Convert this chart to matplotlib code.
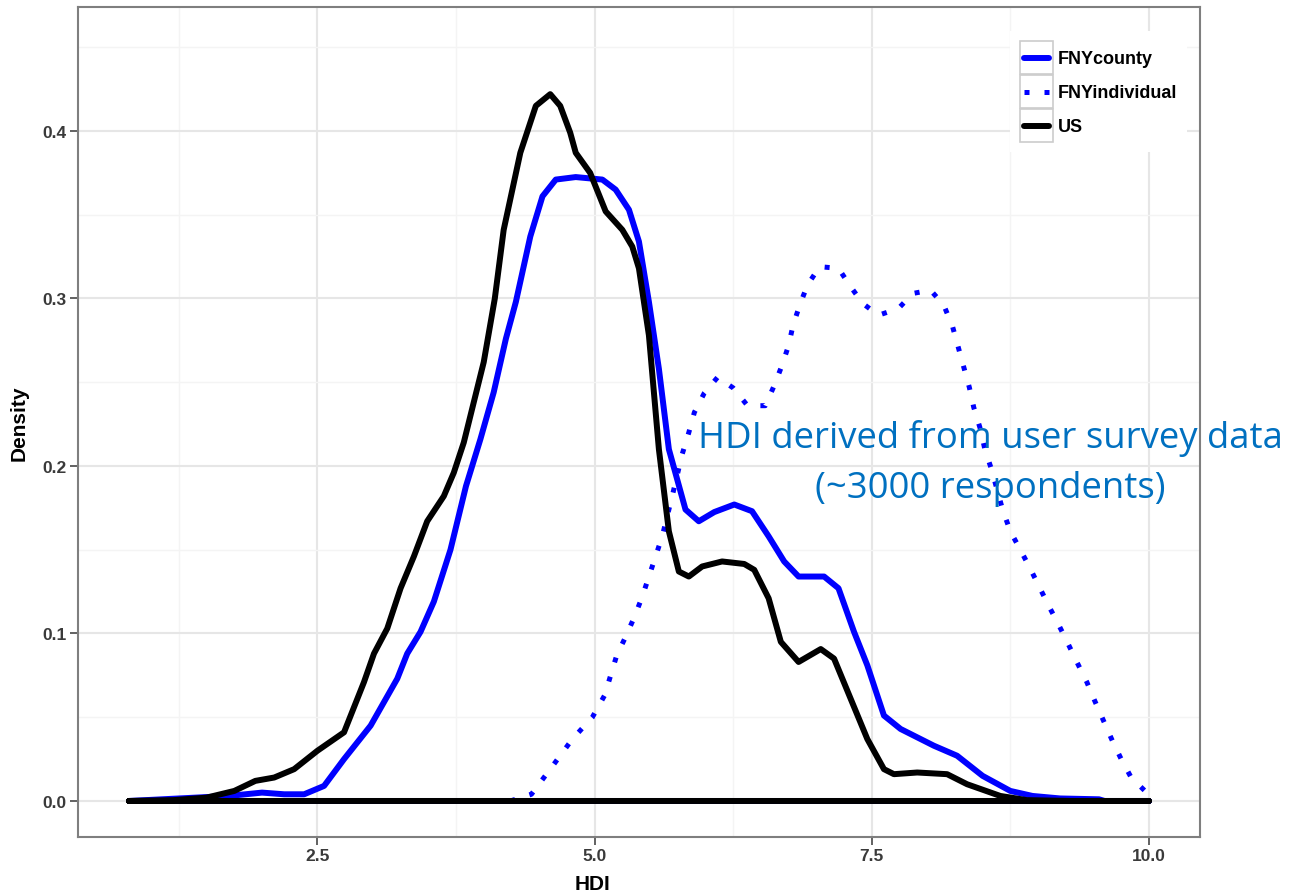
import matplotlib
matplotlib.use("Agg")
from matplotlib import pyplot as plt
from matplotlib.legend_handler import HandlerBase
from matplotlib.lines import Line2D
from matplotlib.patches import Rectangle

# densidad estimada para cada serie
us_hdi = [0.8, 1.2, 1.5, 1.75, 1.94, 2.11, 2.29, 2.5, 2.74, 2.92,
          3.01, 3.13, 3.25, 3.37, 3.49, 3.64, 3.73, 3.82, 3.91, 4.0,
          4.1, 4.18, 4.33, 4.47, 4.6, 4.69, 4.78, 4.83, 4.96, 5.1,
          5.25, 5.34, 5.4, 5.49, 5.58, 5.67, 5.76, 5.85, 5.97, 6.15,
          6.35, 6.44, 6.57, 6.68, 6.84, 7.04, 7.16, 7.31, 7.46, 7.61,
          7.7, 7.91, 8.18, 8.36, 8.66, 8.9, 9.3, 10.0]
us_dens = [0.0, 0.0005, 0.002, 0.006, 0.012, 0.014, 0.019, 0.03, 0.041, 0.071,
           0.088, 0.103, 0.127, 0.146, 0.167, 0.182, 0.196, 0.214, 0.238, 0.262,
           0.30, 0.341, 0.387, 0.415, 0.422, 0.415, 0.399, 0.387, 0.375, 0.352,
           0.341, 0.331, 0.318, 0.278, 0.21, 0.161, 0.137, 0.134, 0.14, 0.143,
           0.1415, 0.138, 0.121, 0.095, 0.083, 0.0907, 0.085, 0.061, 0.037, 0.019,
           0.016, 0.017, 0.016, 0.010, 0.003, 0.0005, 0.0, 0.0]

county_hdi = [0.8, 1.4, 1.7, 2.0, 2.2, 2.38, 2.56, 2.74, 2.98, 3.22,
              3.31, 3.43, 3.55, 3.7, 3.84, 3.97, 4.09, 4.2, 4.29, 4.42,
              4.53, 4.65, 4.83, 5.07, 5.19, 5.31, 5.4, 5.49, 5.58, 5.67,
              5.82, 5.94, 6.08, 6.26, 6.42, 6.57, 6.71, 6.84, 7.07, 7.2,
              7.34, 7.46, 7.61, 7.76, 8.06, 8.27, 8.5, 8.75, 8.95, 9.2,
              9.55, 9.6, 10.0]
county_dens = [0.0, 0.002, 0.003, 0.005, 0.004, 0.004, 0.009, 0.025, 0.045, 0.073,
               0.088, 0.101, 0.119, 0.15, 0.188, 0.216, 0.244, 0.276, 0.298, 0.337,
               0.361, 0.371, 0.3725, 0.371, 0.365, 0.353, 0.334, 0.298, 0.258, 0.21,
               0.174, 0.167, 0.1725, 0.177, 0.173, 0.158, 0.143, 0.134, 0.134, 0.127,
               0.101, 0.081, 0.051, 0.043, 0.033, 0.027, 0.015, 0.006, 0.003, 0.0015,
               0.001, 0.0, 0.0]

indiv_hdi = [4.24, 4.43, 4.6, 4.8, 4.98, 5.09, 5.2, 5.28, 5.36, 5.43,
             5.49, 5.55, 5.61, 5.7, 5.79, 5.85, 5.9, 5.99, 6.11, 6.25,
             6.38, 6.54, 6.62, 6.69, 6.75, 6.79, 6.85, 6.92, 7.03, 7.2,
             7.31, 7.42, 7.56, 7.74, 7.87, 8.03, 8.15, 8.23, 8.28, 8.33,
             8.38, 8.42, 8.48, 8.52, 8.58, 8.63, 8.68, 8.75, 8.84, 8.92,
             9.01, 9.1, 9.18, 9.27, 9.35, 9.44, 9.51, 9.59, 9.67, 9.75,
             9.84, 9.98, 10.0]
indiv_dens = [0.0, 0.004, 0.019, 0.037, 0.05, 0.063, 0.087, 0.098, 0.11, 0.122,
              0.134, 0.146, 0.158, 0.182, 0.207, 0.22, 0.232, 0.2436, 0.253, 0.2466,
              0.236, 0.236, 0.248, 0.26, 0.272, 0.284, 0.296, 0.308, 0.319, 0.318,
              0.307, 0.297, 0.29, 0.294, 0.303, 0.305, 0.296, 0.283, 0.271, 0.259,
              0.247, 0.235, 0.222, 0.21, 0.198, 0.186, 0.174, 0.161, 0.150, 0.14,
              0.128, 0.116, 0.106, 0.094, 0.083, 0.071, 0.06, 0.048, 0.036, 0.025,
              0.014, 0.005, 0.004]

series_names = ["FNYcounty", "FNYindividual", "US"]
x_ticks = [2.5, 5.0, 7.5, 10.0]
y_ticks = [0.0, 0.1, 0.2, 0.3, 0.4]
note_lines = ["HDI derived from user survey data", "(~3000 respondents)"]


class KeyBox(HandlerBase):
    # clave de leyenda estilo ggplot: caja gris con la linea dentro
    def create_artists(self, legend, orig_handle, xdescent, ydescent,
                       width, height, fontsize, trans):
        x0, y0 = -xdescent, -ydescent
        box = Rectangle((x0, y0), width, height, fill=False,
                        edgecolor="#cccccc", linewidth=1.2, transform=trans)
        ln = Line2D([x0 + 0.12 * width, x0 + 0.88 * width],
                    [y0 + height / 2, y0 + height / 2])
        ln.update_from(orig_handle)
        ln.set_transform(trans)
        return [box, ln]


def closed(xs, ys):
    # contorno cerrado como geom_density (curva + base)
    return list(xs) + [xs[-1], xs[0]], list(ys) + [0.0, 0.0]


plt.rcParams["font.family"] = ["Liberation Sans", "DejaVu Sans"]
fig = plt.figure(figsize=(12.93, 8.95), dpi=100)
ax = fig.add_axes([0.0603, 0.0637, 0.8677, 0.9273])

lw = 4.3
x, y = closed(county_hdi, county_dens)
h1, = ax.plot(x, y, color="#0000FF", lw=lw, solid_joinstyle="round",
              solid_capstyle="round", label=series_names[0], zorder=3)
x, y = closed(indiv_hdi, indiv_dens)
h2, = ax.plot(x, y, color="#0000FF", lw=3.6, linestyle=(0, (1, 3)),
              dash_capstyle="butt", label=series_names[1], zorder=3)
x, y = closed(us_hdi, us_dens)
h3, = ax.plot(x, y, color="black", lw=lw, solid_joinstyle="round",
              solid_capstyle="round", label=series_names[2], zorder=4)

ax.set_xlim(0.34, 10.46)
ax.set_ylim(-0.0215, 0.474)
ax.set_xticks(x_ticks)
ax.set_xticklabels(["%.1f" % v for v in x_ticks], fontweight="bold")
ax.set_yticks(y_ticks)
ax.set_yticklabels(["%.1f" % v for v in y_ticks], fontweight="bold")
ax.set_xticks([1.25, 3.75, 6.25, 8.75], minor=True)
ax.set_yticks([0.05, 0.15, 0.25, 0.35, 0.45], minor=True)
ax.grid(which="major", color="#e6e6e6", lw=1.5, zorder=0)
ax.grid(which="minor", color="#f4f4f4", lw=1.0, zorder=0)
ax.set_axisbelow(True)
ax.tick_params(which="major", length=5.5, width=1.3, color="#555555",
               labelsize=12.5, labelcolor="#3a3a3a", pad=2.5)
ax.tick_params(which="minor", length=0)
for s in ax.spines.values():
    s.set_color("#7f7f7f")
    s.set_linewidth(1.5)

ax.set_xlabel("HDI", fontsize=15, fontweight="bold")
ax.xaxis.set_label_coords(0.459, -0.044, transform=ax.transAxes)
ax.xaxis.label.set_va("top")
ax.set_ylabel("Density", fontsize=15, fontweight="bold", labelpad=10)

leg = ax.legend(handles=[h1, h2, h3], loc="upper left",
                bbox_to_anchor=(0.831, 0.971), borderaxespad=0,
                prop={"size": 13, "weight": "bold"},
                handler_map={Line2D: KeyBox()},
                handlelength=1.83, handleheight=2.44, labelspacing=0.055,
                handletextpad=0.25, borderpad=0.55, fancybox=False,
                frameon=True)
leg.get_frame().set_facecolor("white")
leg.get_frame().set_edgecolor("none")
leg.get_frame().set_alpha(1)

fig.text(0.766, 0.4994, note_lines[0], ha="center", va="baseline",
         fontsize=26.3, color="#0070C0", family=["Open Sans", "DejaVu Sans"])
fig.text(0.766, 0.4436, note_lines[1], ha="center", va="baseline",
         fontsize=26.3, color="#0070C0", family=["Open Sans", "DejaVu Sans"])

fig.savefig("out.png", dpi=100, facecolor="white")
